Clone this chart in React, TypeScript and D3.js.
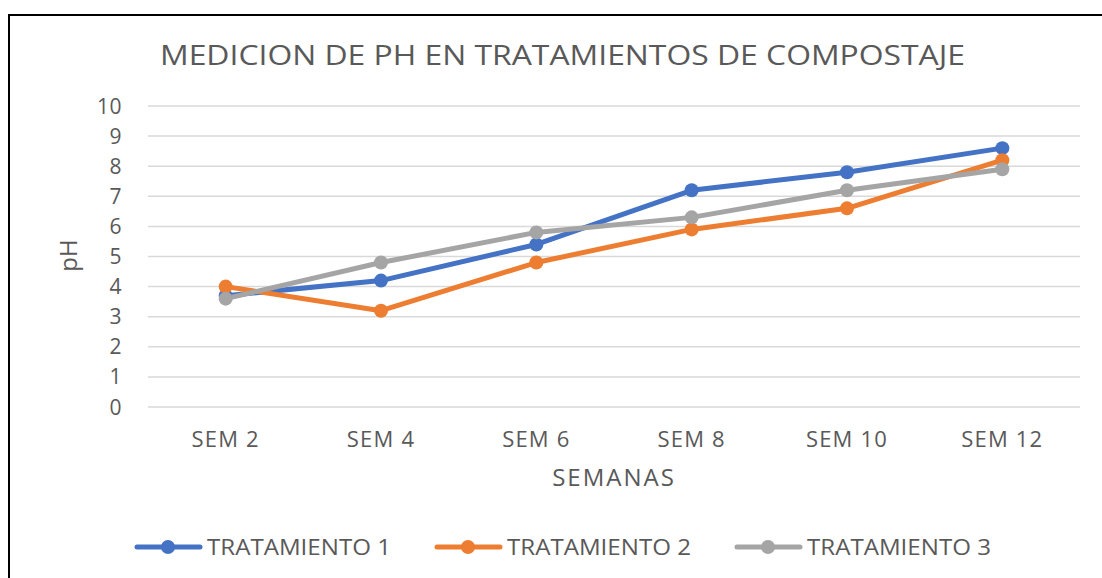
import React from "react";
import * as d3 from "d3";

const categories = ["SEM 2", "SEM 4", "SEM 6", "SEM 8", "SEM 10", "SEM 12"];
const tratamiento1 = [3.7, 4.2, 5.4, 7.2, 7.8, 8.6];
const tratamiento2 = [4.0, 3.2, 4.8, 5.9, 6.6, 8.2];
const tratamiento3 = [3.6, 4.8, 5.8, 6.3, 7.2, 7.9];
const yTicks = [0, 1, 2, 3, 4, 5, 6, 7, 8, 9, 10];
const seriesNames = ["TRATAMIENTO 1", "TRATAMIENTO 2", "TRATAMIENTO 3"];
const colors = ["#4472C4", "#ED7D31", "#A5A5A5"];

const W = 1102;
const H = 578;
const left = 148;
const right = 1080;
const top = 106;
const bottom = 407;
const font = "'Open Sans', sans-serif";
const textColor = "#595959";

export default function App() {
  const x = d3.scalePoint<string>().domain(categories).range([left, right]).padding(0.5);
  const y = d3.scaleLinear().domain([0, 10]).range([bottom, top]);
  const line = d3
    .line<number>()
    .x((_, i) => x(categories[i]) as number)
    .y((d) => y(d));
  const series = [tratamiento1, tratamiento2, tratamiento3];
  const legendX = [137, 437, 737];
  const legendY = 547;

  return (
    <svg
      width={W}
      height={H}
      style={{ position: "absolute", left: 0, top: 0, background: "#fff" }}
      fontFamily={font}
    >
      <rect x={0} y={0} width={W} height={H} fill="#fff" />
      <line x1={9} y1={14} x2={9} y2={H} stroke="#000" strokeWidth={2} />
      <line x1={8} y1={15} x2={W} y2={15} stroke="#000" strokeWidth={2} />
      <text x={160} y={65} fontSize={28} fill={textColor} textLength={805} lengthAdjust="spacingAndGlyphs">
        MEDICION DE PH EN TRATAMIENTOS DE COMPOSTAJE
      </text>
      {yTicks.map((t) => (
        <g key={t}>
          <line x1={left} x2={right} y1={y(t)} y2={y(t)} stroke="#D9D9D9" strokeWidth={1.5} />
          <text x={122} y={y(t)} dy="0.36em" textAnchor="end" fontSize={21} fill={textColor} letterSpacing={0.5}>
            {t}
          </text>
        </g>
      ))}
      {categories.map((c) => (
        <text key={c} x={x(c)} y={447} textAnchor="middle" fontSize={22} fill={textColor} letterSpacing={1.2}>
          {c}
        </text>
      ))}
      <text x={(left + right) / 2} y={486} textAnchor="middle" fontSize={24} fill={textColor} letterSpacing={2}>
        SEMANAS
      </text>
      <text
        transform={`translate(77, ${(top + bottom) / 2 - 1}) rotate(-90)`}
        textAnchor="middle"
        fontSize={24}
        fill={textColor}
      >
        pH
      </text>
      {series.map((s, si) => (
        <g key={si}>
          <path d={line(s) || ""} fill="none" stroke={colors[si]} strokeWidth={5} strokeLinejoin="round" strokeLinecap="round" />
          {s.map((v, i) => (
            <circle key={i} cx={x(categories[i])} cy={y(v)} r={7} fill={colors[si]} />
          ))}
        </g>
      ))}
      {seriesNames.map((n, i) => (
        <g key={n}>
          <line x1={legendX[i]} x2={legendX[i] + 63} y1={legendY} y2={legendY} stroke={colors[i]} strokeWidth={5} strokeLinecap="round" />
          <circle cx={legendX[i] + 31} cy={legendY} r={7} fill={colors[i]} />
          <text x={legendX[i] + 70} y={legendY} dy="0.36em" fontSize={21} fill={textColor} textLength={184} lengthAdjust="spacingAndGlyphs">
            {n}
          </text>
        </g>
      ))}
    </svg>
  );
}
